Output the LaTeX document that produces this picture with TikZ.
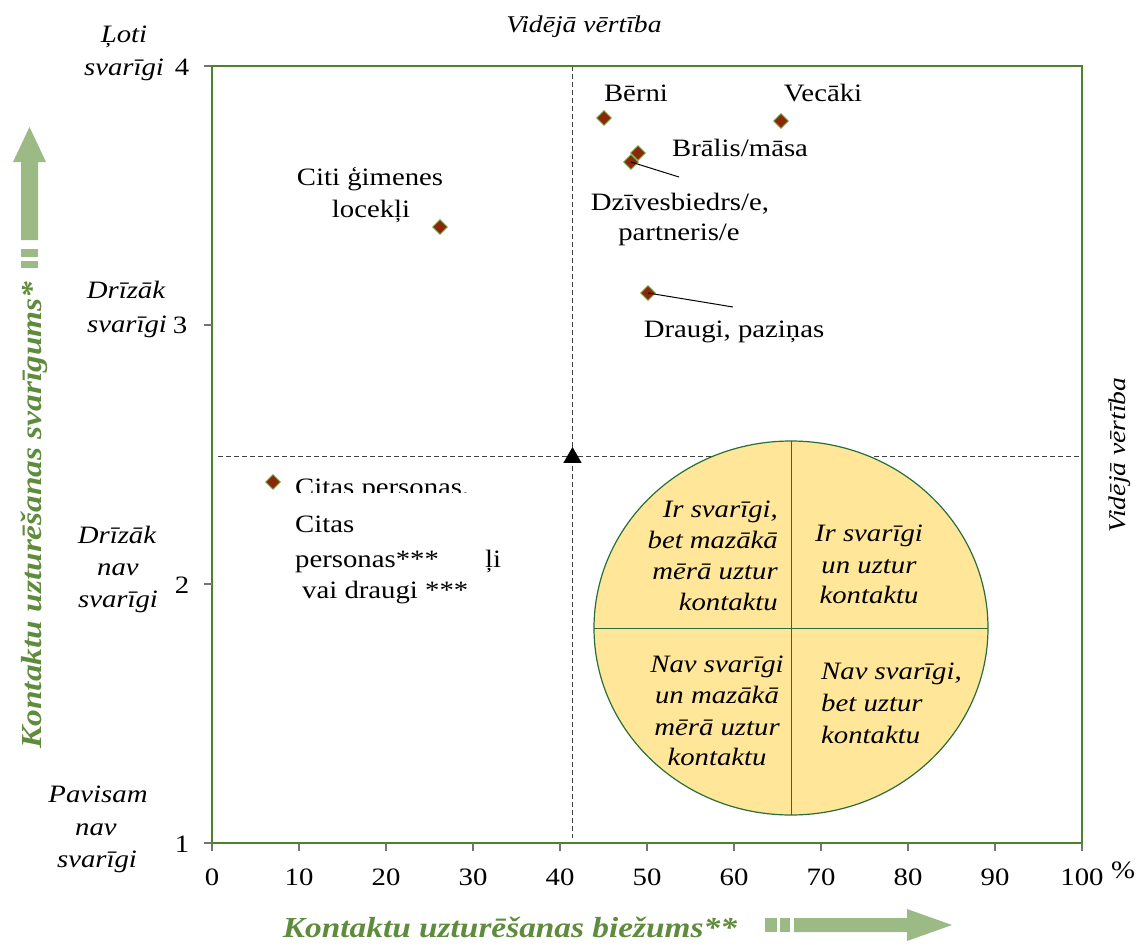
\documentclass[tikz,border=0pt]{standalone}
\usepackage{fontspec}
\setmainfont{Liberation Serif}[FakeStretch=1.15]
\usetikzlibrary{shapes.geometric}
\definecolor{frameg}{RGB}{79,128,44}
\definecolor{textg}{RGB}{95,140,60}
\definecolor{arrowg}{RGB}{156,186,134}
\definecolor{dia}{RGB}{140,40,10}
\definecolor{diaedge}{RGB}{110,160,60}
\definecolor{ellfill}{RGB}{255,230,153}
\definecolor{elledge}{RGB}{40,110,60}
\tikzset{
  lbl/.style={inner sep=0, font=\fontsize{25}{30}\selectfont},
  ilbl/.style={inner sep=0, font=\fontsize{25}{30}\selectfont\itshape},
  numlbl/.style={inner sep=0, font=\fontsize{25}{30}\selectfont, anchor=base},
  datapt/.style={diamond, draw=diaedge, fill=dia, line width=0.9, minimum size=15, inner sep=0},
  tickmark/.style={draw=black!55, line width=1.2},
  guide/.style={draw=black!75, line width=0.9, dash pattern=on 5pt off 3pt},
  leader/.style={draw=black, line width=1},
  axislbl/.style={inner sep=0, text=textg, font=\fontsize{29}{32}\selectfont\bfseries\itshape},
}
\begin{document}
\begin{tikzpicture}[x=1pt,y=-1pt]
\useasboundingbox (0,0) rectangle (1138,950);

% guides
\draw[guide] (572.5,66) -- (572.5,838);
\draw[guide] (218,456) -- (1082,456);

% frame
\draw[frameg, line width=2] (212,66) rectangle (1082,843);

% ticks
\foreach \yy in {66,325,584,843} \draw[tickmark] (204,\yy) -- (212,\yy);
\foreach \k in {0,...,10} \draw[tickmark] (212+87*\k,843) -- (212+87*\k,851);

% y numbers
\node[numlbl] (y4) at (182,76) {4};
\node[numlbl] (y3) at (180,333) {3};
\node[numlbl] (y2) at (182,593) {2};
\node[numlbl] (y1) at (182,852) {1};
% x numbers
\foreach \k/\t in {0/0,1/10,2/20,3/30,4/40,5/50,6/60,7/70,8/80,9/90,10/100}
  \node[numlbl] (x\k) at (212+87*\k,885) {\t};
\node[numlbl] (pct) at (1123,878) {\%};

% y category labels
\node[ilbl, anchor=base] (c4a) at (124,43) {Ļoti};
\node[ilbl, anchor=base] (c4b) at (124,76) {svarīgi};
\node[ilbl, anchor=base] (c3a) at (126,298) {Drīzāk};
\node[ilbl, anchor=base] (c3b) at (127,332) {svarīgi};
\node[ilbl, anchor=base] (c2a) at (117,543) {Drīzāk};
\node[ilbl, anchor=base] (c2b) at (118,575) {nav};
\node[ilbl, anchor=base] (c2c) at (118,607) {svarīgi};
\node[ilbl, anchor=base] (c1a) at (98,802) {Pavisam};
\node[ilbl, anchor=base] (c1b) at (96,835) {nav};
\node[ilbl, anchor=base] (c1c) at (97,867) {svarīgi};

% mean value labels
\node[ilbl, anchor=base, font=\fontsize{24}{28}\selectfont\itshape] (vtop) at (584,33) {Vidējā vērtība};
\node[ilbl, rotate=90, font=\fontsize{24}{28}\selectfont\itshape] (vright) at (1120,455) {Vidējā vērtība};

% ellipse legend
\draw[elledge, fill=ellfill, line width=1.2] (791,628) ellipse [x radius=197, y radius=187];
\draw[elledge, line width=1] (791,441) -- (791,815);
\draw[elledge, line width=1] (594,628) -- (988,628);

\node[ilbl, anchor=base east] (q1a) at (778,517) {Ir svarīgi,};
\node[ilbl, anchor=base east] (q1b) at (778,548) {bet mazākā};
\node[ilbl, anchor=base east] (q1c) at (778,579) {mērā uztur};
\node[ilbl, anchor=base east] (q1d) at (778,610) {kontaktu};
\node[ilbl, anchor=base] (q2a) at (869,541) {Ir svarīgi};
\node[ilbl, anchor=base] (q2b) at (869,573) {un uztur};
\node[ilbl, anchor=base] (q2c) at (869,603) {kontaktu};
\node[ilbl, anchor=base] (q3a) at (717,672) {Nav svarīgi};
\node[ilbl, anchor=base] (q3b) at (717,703) {un mazākā};
\node[ilbl, anchor=base] (q3c) at (717,735) {mērā uztur};
\node[ilbl, anchor=base] (q3d) at (717,765) {kontaktu};
\node[ilbl, anchor=base west] (q4a) at (821,679) {Nav svarīgi,};
\node[ilbl, anchor=base west] (q4b) at (821,711) {bet uztur};
\node[ilbl, anchor=base west] (q4c) at (821,743) {kontaktu};

% mean marker
\node[regular polygon, regular polygon sides=3, fill=black, minimum size=21, inner sep=0] (mean) at (572.5,457.5) {};

% data points
\node[datapt] (berni) at (604,118) {};
\node[datapt] (vecaki) at (781,121) {};
\node[datapt] (bralis) at (638,153) {};
\node[datapt] (dzives) at (631,162) {};
\node[datapt] (citi) at (440,227) {};
\node[datapt] (draugi) at (648,293) {};
\node[datapt] (citas) at (273,482) {};

% point labels
\node[lbl, anchor=base] (lberni) at (636,101) {Bērni};
\node[lbl, anchor=base] (lvecaki) at (823,101) {Vecāki};
\node[lbl, anchor=base west] (lbralis) at (672,156) {Brālis/māsa};
\node[lbl, anchor=base] (ldz1) at (680,210) {Dzīvesbiedrs/e,};
\node[lbl, anchor=base] (ldz2) at (679,240) {partneris/e};
\node[lbl, anchor=base] (ldraugi) at (734,337) {Draugi, paziņas};
\node[lbl, anchor=base] (lciti1) at (370,185) {Citi ģimenes};
\node[lbl, anchor=base] (lciti2) at (371,217) {locekļi};

\coordinate (dzend) at (679,177);
\coordinate (drend) at (733,307);
\draw[leader] (dzives.center) -- (dzend);
\draw[leader] (draugi.center) -- (drend);

% overlapping labels of "Citas personas"
\begin{scope}
  \clip (280,470) rectangle (520,492);
  \node[lbl, anchor=base west] (lcit0) at (295,495) {Citas personas,};
\end{scope}
\node[lbl, anchor=base west] (lcit1) at (295,532) {Citas};
\node[lbl, anchor=base west] (lcit2) at (295,567) {personas***};
\node[lbl, anchor=base west] (lcit3) at (485,567) {ļi};
\node[lbl, anchor=base west] (lcit4) at (302,598) {vai draugi ***};

% axis titles
\node[axislbl, rotate=90] (ytitle) at (34,515) {Kontaktu uzturēšanas svarīgums*};
\node[axislbl, anchor=base] (xtitle) at (510,937) {Kontaktu uzturēšanas biežums**};

% decorative arrows
\fill[arrowg] (21,268) rectangle (38,261);
\fill[arrowg] (21,257) rectangle (38,249);
\fill[arrowg] (21,240) -- (21,162) -- (13,162) -- (29.5,127) -- (46,162) -- (38,162) -- (38,240) -- cycle;

\fill[arrowg] (765,918) rectangle (777,932);
\fill[arrowg] (780,918) rectangle (790,932);
\fill[arrowg] (794,918) -- (907,918) -- (907,909) -- (952,925) -- (907,941) -- (907,932) -- (794,932) -- cycle;
\end{tikzpicture}
\end{document}
